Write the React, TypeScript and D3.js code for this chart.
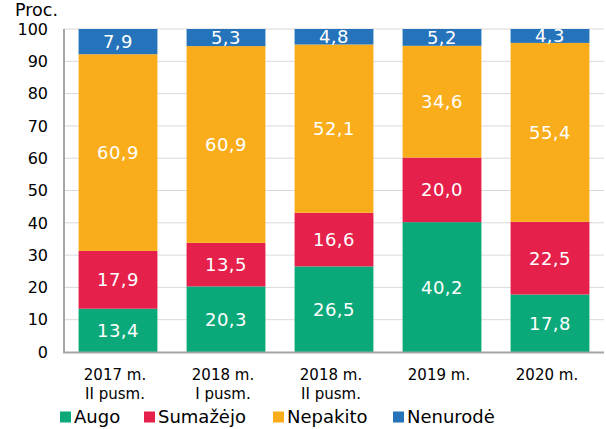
import React from "react";
import * as d3 from "d3";

const categories = [["2017 m.", "II pusm."], ["2018 m.", "I pusm."], ["2018 m.", "II pusm."], ["2019 m."], ["2020 m."]];
const seriesNames = ["Augo", "Sumažėjo", "Nepakito", "Nenurodė"];
const augo = [13.4, 20.3, 26.5, 40.2, 17.8];
const sumazejo = [17.9, 13.5, 16.6, 20.0, 22.5];
const nepakito = [60.9, 60.9, 52.1, 34.6, 55.4];
const nenurode = [7.9, 5.3, 4.8, 5.2, 4.3];
const yTicks = [0, 10, 20, 30, 40, 50, 60, 70, 80, 90, 100];
const colors = ["#0BA97A", "#E4204B", "#FAAD1A", "#2473BB"];

const W = 606, H = 429;
const font = "'DejaVu Sans', Verdana, sans-serif";

export default function App() {
  const series = [augo, sumazejo, nepakito, nenurode];
  const x = d3.scaleBand<number>().domain(d3.range(categories.length)).range([64, 604]).paddingInner(0.27).paddingOuter(0.135);
  const y = d3.scaleLinear().domain([0, 100]).range([352, 29]);
  const fmt = (v: number) => v.toFixed(1).replace(".", ",");
  const rects: any[] = [];
  categories.forEach((_, i) => {
    let acc = 0;
    series.forEach((s, k) => {
      const v = s[i];
      const y0 = acc;
      const y1 = Math.min(100, acc + v);
      acc += v;
      const top = y(y1), bot = y(y0);
      rects.push(
        <g key={`${i}-${k}`}>
          <rect x={x(i)} y={top} width={x.bandwidth()} height={bot - top} fill={colors[k]} />
          <text x={(x(i) as number) + x.bandwidth() / 2} y={(top + bot) / 2} dy="0.36em" textAnchor="middle" fill="#fff" fontSize={18} letterSpacing={0.5} fontFamily={font}>{fmt(v)}</text>
        </g>
      );
    });
  });
  const legendX = [60, 144, 273, 393];
  return (
    <svg width={W} height={H} style={{ position: "absolute", left: 0, top: 0, background: "#fff" }}>
      {yTicks.map(t => (
        <g key={t}>
          {t > 0 && <line x1={64} x2={604} y1={y(t)} y2={y(t)} stroke="#D9D9D9" strokeWidth={1} />}
          <text x={48} y={y(t)} dy="0.36em" textAnchor="end" fontSize={16} fontFamily={font} fill="#000">{t}</text>
        </g>
      ))}
      <text x={15} y={16} fontSize={17.5} fontFamily={font} fill="#000">Proc.</text>
      {rects}
      <line x1={64} x2={64} y1={29} y2={353} stroke="#A6A6A6" strokeWidth={2} />
      <line x1={63} x2={604} y1={352.5} y2={352.5} stroke="#A6A6A6" strokeWidth={2} />
      {categories.map((c, i) => (
        <text key={i} textAnchor="middle" fontSize={15} fontFamily={font} fill="#000">
          {c.map((l, j) => (
            <tspan key={j} x={(x(i) as number) + x.bandwidth() / 2 - 3} y={380 + j * 19}>{l}</tspan>
          ))}
        </text>
      ))}
      {seriesNames.map((n, k) => (
        <g key={n}>
          <rect x={legendX[k]} y={411.5} width={11} height={11} fill={colors[k]} />
          <text x={legendX[k] + 14} y={423} fontSize={18} fontFamily={font} fill="#000">{n}</text>
        </g>
      ))}
    </svg>
  );
}
